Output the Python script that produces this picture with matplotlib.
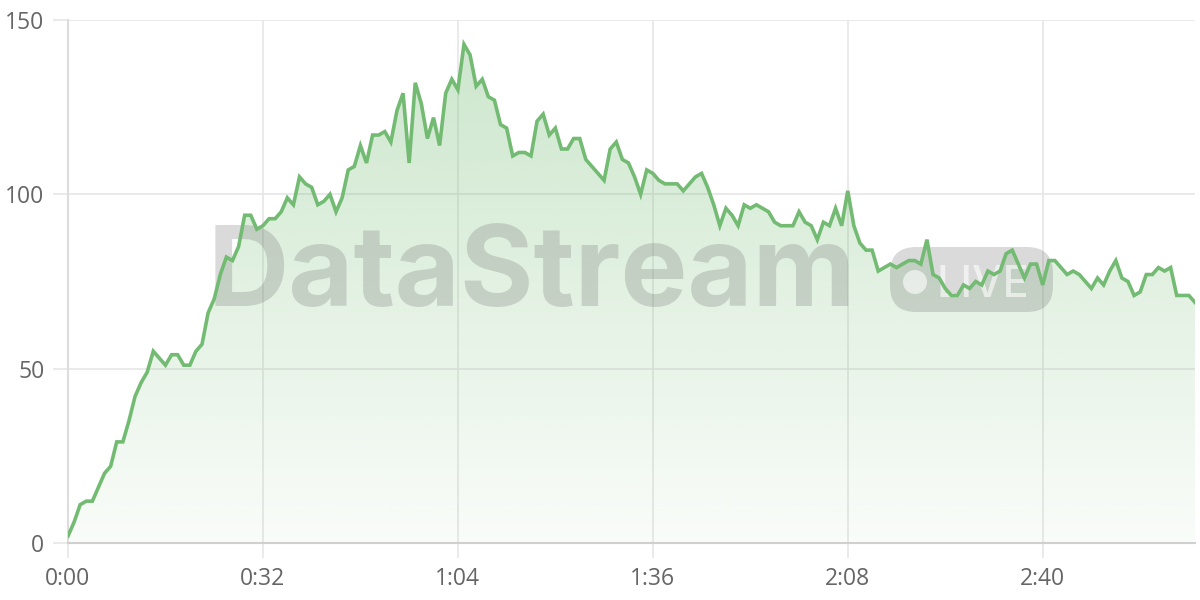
import matplotlib
matplotlib.use("Agg")
import matplotlib.pyplot as plt
import numpy as np
from matplotlib.patches import FancyBboxPatch, Circle
from matplotlib.transforms import IdentityTransform
from matplotlib.ticker import FuncFormatter

# valores (un punto por segundo)
segundos = list(range(186))
valores = [2, 6, 11, 12, 12, 16, 20, 22, 29, 29,
           35, 42, 46, 49, 55, 53, 51, 54, 54, 51,
           51, 55, 57, 66, 70, 77, 82, 81, 85, 94,
           94, 90, 91, 93, 93, 95, 99, 97, 105, 103,
           102, 97, 98, 100, 95, 99, 107, 108, 114, 109,
           117, 117, 118, 115, 124, 129, 109, 132, 126, 116,
           122, 114, 129, 133, 130, 143, 140, 131, 133, 128,
           127, 120, 119, 111, 112, 112, 111, 121, 123, 117,
           119, 113, 113, 116, 116, 110, 108, 106, 104, 113,
           115, 110, 109, 105, 100, 107, 106, 104, 103, 103,
           103, 101, 103, 105, 106, 102, 97, 91, 96, 94,
           91, 97, 96, 97, 96, 95, 92, 91, 91, 91,
           95, 92, 91, 87, 92, 91, 96, 91, 101, 91,
           86, 84, 84, 78, 79, 80, 79, 80, 81, 81,
           80, 87, 77, 76, 73, 71, 71, 74, 73, 75,
           74, 78, 77, 78, 83, 84, 80, 76, 80, 80,
           74, 81, 81, 79, 77, 78, 77, 75, 73, 76,
           74, 78, 81, 76, 75, 71, 72, 77, 77, 79,
           78, 79, 71, 71, 71, 69]
ticks_x = [0, 32, 64, 96, 128, 160]
ticks_y = [0, 50, 100, 150]

verde = "#73bb73"
gris_texto = "#666666"

fig = plt.figure(figsize=(12, 6), dpi=100)
ax = fig.add_axes([68 / 1200, 1 - 543 / 600, 1127 / 1200, 523 / 600])

# relleno con degradado
relleno = ax.fill_between(segundos, valores, 0, color="none", lw=0)
grad = np.linspace(0.36, 0.04, 256).reshape(-1, 1)
colores = np.zeros((256, 1, 4))
colores[..., :3] = matplotlib.colors.to_rgb(verde)
colores[..., 3] = grad
img = ax.imshow(colores, extent=[0, 185, 0, 143], origin="upper",
                aspect="auto", zorder=1)
img.set_clip_path(relleno.get_paths()[0], transform=ax.transData)

ax.plot(segundos, valores, color=verde, lw=2.6, zorder=4,
        solid_joinstyle="miter")

ax.set_xlim(0, 185)
ax.set_ylim(0, 150)
ax.set_xticks(ticks_x)
ax.set_yticks(ticks_y)
ax.xaxis.set_major_formatter(FuncFormatter(lambda v, p: "%d:%02d" % (v // 60, v % 60)))
ax.grid(True, color="#e6e6e6", lw=1.2, zorder=0)
ax.set_axisbelow(True)
for lado in ["top", "right"]:
    ax.spines[lado].set_visible(False)
ax.spines["left"].set_color("#dddddd")
ax.spines["left"].set_linewidth(1.5)
ax.spines["bottom"].set_color("#d0d0d0")
ax.spines["bottom"].set_linewidth(1.5)
ax.tick_params(axis="both", length=11, width=1.2, color="#e6e6e6",
               labelcolor=gris_texto, labelsize=16.5)
ax.tick_params(axis="x", pad=6)
ax.tick_params(axis="y", pad=6)
for t in ax.get_xticklabels() + ax.get_yticklabels():
    t.set_fontfamily("Open Sans")

# marca de agua (entre el relleno y la linea)
ax.text(208 / 1200, 1 - 306 / 600, "DataStream", fontsize=81, fontweight="bold",
        family="Inter", color="#6e6e6e", alpha=0.25, va="baseline", ha="left",
        transform=fig.transFigure, zorder=3, clip_on=False)
pastilla = FancyBboxPatch((890, 600 - 312), 163, 65,
                          boxstyle="round,pad=0,rounding_size=26",
                          transform=IdentityTransform(), facecolor="#6e6e6e",
                          edgecolor="none", alpha=0.25, zorder=3, clip_on=False)
ax.add_artist(pastilla)
circulo = Circle((915, 600 - 282), 12, transform=IdentityTransform(),
                 facecolor="white", edgecolor="none", alpha=0.6, zorder=3,
                 clip_on=False)
ax.add_artist(circulo)
ax.text(936 / 1200, 1 - 297 / 600, "LIVE", fontsize=31, fontweight="medium",
        family="Inter", color="white", alpha=0.6, va="baseline", ha="left",
        transform=fig.transFigure, zorder=3, clip_on=False)

fig.savefig("out.png", dpi=100)
